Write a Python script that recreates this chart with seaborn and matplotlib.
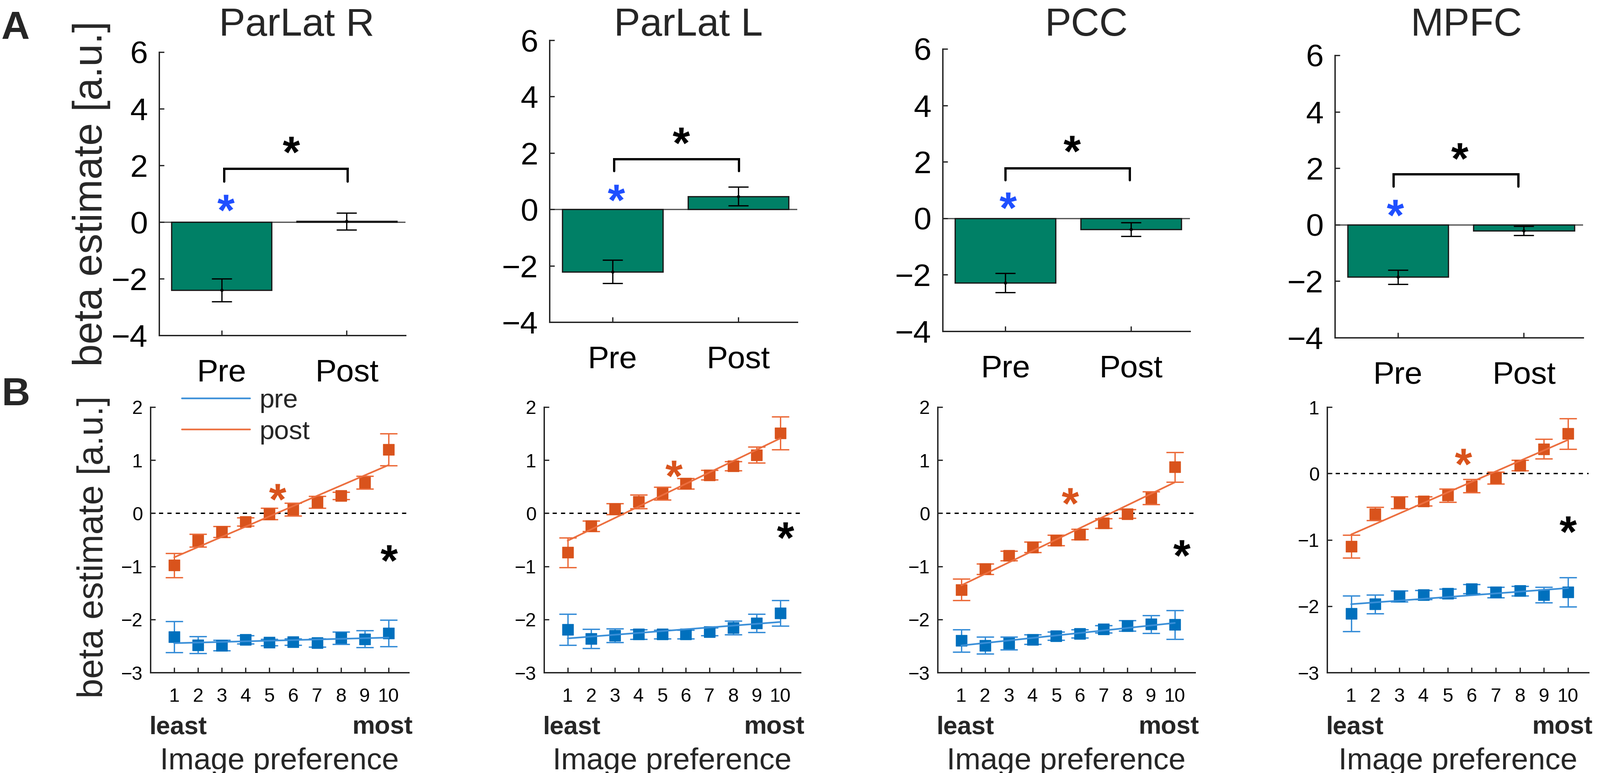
import numpy as np
import pandas as pd
import seaborn as sns
import matplotlib.pyplot as plt
from matplotlib.lines import Line2D
from matplotlib.textpath import TextPath
from matplotlib.font_manager import FontProperties
from matplotlib.path import Path

sns.set_theme(style='ticks')
plt.rcParams['font.family'] = ['Liberation Sans', 'DejaVu Sans']

# ---- data ----
regions = ['ParLat R', 'ParLat L', 'PCC', 'MPFC']
conditions = ['Pre', 'Post']

# panel A: mean beta per session and error
bar_pre = [-2.40, -2.21, -2.29, -1.85]
bar_post = [0.03, 0.46, -0.39, -0.21]
bar_pre_err = [0.40, 0.42, 0.34, 0.25]
bar_post_err = [0.30, 0.33, 0.24, 0.16]

# panel B: beta by image preference bin (1 = least, 10 = most)
pref = [1, 2, 3, 4, 5, 6, 7, 8, 9, 10]
pre_means = [
    [-2.33, -2.48, -2.49, -2.38, -2.43, -2.42, -2.44, -2.35, -2.37, -2.26],
    [-2.19, -2.36, -2.30, -2.28, -2.28, -2.28, -2.23, -2.16, -2.07, -1.88],
    [-2.40, -2.49, -2.45, -2.38, -2.31, -2.27, -2.18, -2.12, -2.09, -2.10],
    [-2.11, -1.97, -1.85, -1.83, -1.81, -1.74, -1.79, -1.77, -1.83, -1.79],
]
pre_sem = [
    [0.29, 0.16, 0.10, 0.08, 0.06, 0.06, 0.08, 0.12, 0.16, 0.25],
    [0.29, 0.18, 0.13, 0.09, 0.08, 0.08, 0.07, 0.13, 0.17, 0.24],
    [0.21, 0.16, 0.12, 0.09, 0.08, 0.08, 0.07, 0.10, 0.17, 0.27],
    [0.27, 0.14, 0.08, 0.07, 0.07, 0.07, 0.08, 0.07, 0.12, 0.22],
]
post_means = [
    [-0.98, -0.51, -0.35, -0.16, -0.01, 0.07, 0.21, 0.33, 0.58, 1.20],
    [-0.74, -0.24, 0.08, 0.22, 0.37, 0.56, 0.72, 0.89, 1.10, 1.51],
    [-1.44, -1.05, -0.80, -0.64, -0.51, -0.40, -0.19, -0.01, 0.29, 0.87],
    [-1.10, -0.61, -0.44, -0.42, -0.33, -0.19, -0.07, 0.12, 0.37, 0.60],
]
post_sem = [
    [0.23, 0.12, 0.10, 0.08, 0.11, 0.12, 0.11, 0.07, 0.12, 0.30],
    [0.28, 0.10, 0.10, 0.13, 0.12, 0.10, 0.09, 0.09, 0.15, 0.31],
    [0.20, 0.10, 0.09, 0.10, 0.10, 0.10, 0.09, 0.08, 0.12, 0.28],
    [0.17, 0.10, 0.09, 0.07, 0.10, 0.10, 0.09, 0.08, 0.15, 0.23],
]
b_ymax = [2, 2, 2, 1]

# significance marks
a_blue_star = [(0.035, 0.67), (0.03, 0.58), (0.02, 0.62), (-0.02, 0.60)]
a_black_star = [(0.557, 2.72), (0.547, 2.62), (0.53, 2.64), (0.49, 2.61)]
a_bracket = [(0.02, 1.006, 1.88, 1.43), (0.013, 1.004, 1.78, 1.36),
             (0.0, 0.99, 1.78, 1.35), (-0.036, 0.956, 1.79, 1.36)]
b_orange_star = [(5.34, 0.40), (5.49, 0.84), (5.58, 0.32), (5.65, 0.25)]
b_black_star = [(10.03, -0.75), (10.22, -0.32), (10.3, -0.66), (10.0, -0.77)]

# ---- styling ----
W, H = 3500, 1692
teal = '#008066'
pre_mark, pre_line = '#0070BD', '#3A8FD8'
post_mark, post_line = '#D9531C', '#EC6E3E'
axis_col = '#262626'

# bold asterisk glyph as a centred marker
_polys = TextPath((0, 0), '*', size=1,
                  prop=FontProperties(family='Liberation Sans', weight='bold')).to_polygons()
_all = np.vstack(_polys)
_c = (_all.min(axis=0) + _all.max(axis=0)) / 2
star = Path.make_compound_path(*[Path(p - _c, closed=True) for p in _polys])


def rect(l, r, t, b):
    return [l / W, 1 - b / H, (r - l) / W, (b - t) / H]


rects_a = [rect(348, 887, 114, 734), rect(1202, 1744, 88, 705),
           rect(2062, 2603, 107, 725), rect(2920, 3463, 121, 739)]
rects_b = [rect(329, 894, 891, 1472), rect(1190, 1751, 891, 1472),
           rect(2051, 2614, 891, 1472), rect(2903, 3475, 891, 1472)]
title_x = [649, 1506, 2377, 3208]

fig = plt.figure(figsize=(W / 200, H / 200), dpi=200)

for i, reg in enumerate(regions):
    # ---------- panel A ----------
    ax = fig.add_axes(rects_a[i])
    df = pd.DataFrame({'cond': conditions, 'beta': [bar_pre[i], bar_post[i]]})
    ax.axhline(0, color='#555555', lw=1.0, zorder=0.5)
    sns.barplot(data=df, x='cond', y='beta', color=teal, saturation=1, width=0.8,
                edgecolor='#1a1a1a', linewidth=1.0, errorbar=None, ax=ax, zorder=2)
    ax.errorbar([0, 1], [bar_pre[i], bar_post[i]], yerr=[bar_pre_err[i], bar_post_err[i]],
                fmt='.', color='black', ms=3, capsize=8, elinewidth=1.0, capthick=1.0, zorder=3)
    x0, x1, ytop, yleg = a_bracket[i]
    ax.plot([x0, x0, x1, x1], [yleg, ytop, ytop, yleg], color='black', lw=1.8,
            solid_joinstyle='miter', zorder=3)
    ax.plot(*a_blue_star[i], marker=star, ms=13.5, color='#1F4FFF', mew=0, zorder=4)
    ax.plot(*a_black_star[i], marker=star, ms=13.5, color='black', mew=0, zorder=4)
    ax.set_xlim(-0.5, 1.47)
    ax.set_ylim(-4, 6)
    ax.set_yticks([-4, -2, 0, 2, 4, 6])
    ax.set_xlabel('')
    ax.set_ylabel('')
    ax.tick_params(direction='in', length=4, width=1, colors=axis_col, labelcolor='black',
                   labelsize=25)
    ax.tick_params(axis='x', pad=18)
    ax.tick_params(axis='y', pad=9)
    sns.despine(ax=ax)
    for s in ['left', 'bottom']:
        ax.spines[s].set_color(axis_col)
        ax.spines[s].set_linewidth(1.1)
    fig.text(title_x[i] / W, 1 - 78 / H, reg, ha='center', va='baseline', fontsize=31)

    # ---------- panel B ----------
    bx = fig.add_axes(rects_b[i])
    bx.axhline(0, color='black', lw=1.1, ls=(0, (3, 3)), zorder=0.5)
    series = [(pre_means[i], pre_sem[i], pre_mark, pre_line),
              (post_means[i], post_sem[i], post_mark, post_line)]
    for vals, errs, mcol, lcol in series:
        bx.errorbar(pref, vals, yerr=errs, fmt='none', ecolor=lcol, elinewidth=1.1,
                    capsize=7, capthick=1.1, zorder=2)
        sns.regplot(x=pref, y=vals, ci=None, scatter=False, truncate=True, color=lcol,
                    line_kws={'lw': 1.3, 'zorder': 4}, ax=bx)
        sns.scatterplot(x=pref, y=vals, marker='s', s=70, color=mcol, edgecolor=mcol,
                        linewidth=0.5, ax=bx, zorder=3, legend=False)
    bx.plot(*b_orange_star[i], marker=star, ms=13.5, color=post_mark, mew=0, zorder=5)
    bx.plot(*b_black_star[i], marker=star, ms=13.5, color='black', mew=0, zorder=5)
    bx.set_xlim(0, 10.85)
    bx.set_ylim(-3, b_ymax[i])
    bx.set_yticks(range(-3, b_ymax[i] + 1))
    bx.set_xticks(pref)
    bx.tick_params(direction='in', length=4, width=1, colors=axis_col, labelcolor='black',
                   labelsize=15)
    bx.tick_params(axis='x', pad=12)
    bx.tick_params(axis='y', pad=6)
    sns.despine(ax=bx)
    for s in ['left', 'bottom']:
        bx.spines[s].set_color(axis_col)
        bx.spines[s].set_linewidth(1.1)
    bx.text(-0.005, -0.232, 'least', transform=bx.transAxes, ha='left', va='baseline',
            fontsize=20, fontweight='bold')
    bx.text(1.015, -0.232, 'most', transform=bx.transAxes, ha='right', va='baseline',
            fontsize=20, fontweight='bold')
    bx.text(0.5, -0.365, 'Image preference', transform=bx.transAxes, ha='center',
            va='baseline', fontsize=24)
    if i == 0:
        handles = [Line2D([], [], color=pre_line, lw=1.3),
                   Line2D([], [], color=post_line, lw=1.3)]
        bx.legend(handles, ['pre', 'post'], loc='upper left', bbox_to_anchor=(0.122, 1.07),
                  frameon=False, fontsize=21, handlelength=2.55, handletextpad=0.35,
                  labelspacing=0.25, borderpad=0, borderaxespad=0)

fig.text(200 / W, 1 - 424 / H, 'beta estimate [a.u.]', rotation=90, ha='center',
         va='center', fontsize=32)
fig.text(205 / W, 1 - 1197 / H, 'beta estimate [a.u.]', rotation=90, ha='center',
         va='center', fontsize=28)
fig.text(3 / W, 1 - 85 / H, 'A', fontsize=31, fontweight='bold', va='baseline')
fig.text(3 / W, 1 - 887 / H, 'B', fontsize=31, fontweight='bold', va='baseline')

fig.savefig('out.png', dpi=200)
